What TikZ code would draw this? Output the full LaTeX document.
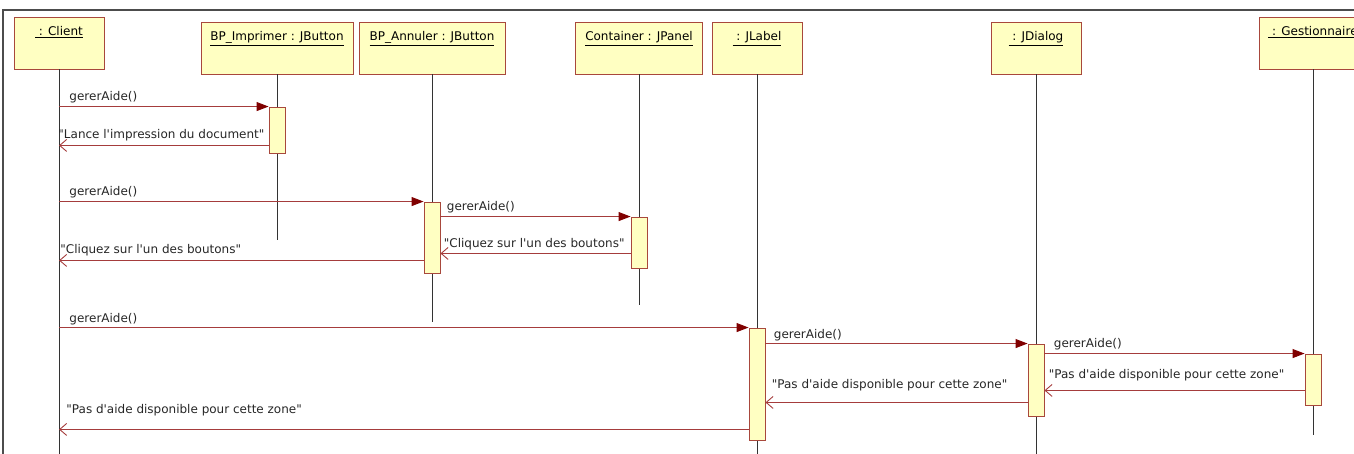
\documentclass[tikz,border=0pt]{standalone}
\usepackage{fontspec}
\setmainfont{DejaVu Sans}
\usetikzlibrary{arrows.meta}
\definecolor{boxfill}{RGB}{255,255,194}
\definecolor{boxline}{RGB}{168,72,60}
\definecolor{msgline}{RGB}{165,60,60}
\definecolor{tipcol}{RGB}{128,0,0}
\tikzset{
  objbox/.style={draw=boxline, fill=boxfill, line width=0.9pt, minimum height=52pt,
    text height=10pt, text depth=24pt, inner ysep=9pt, inner xsep=3pt},
  actbox/.style={draw=boxline, fill=boxfill, line width=0.9pt, minimum width=16pt, inner sep=0pt},
  lifeline/.style={black!80, line width=0.6pt},
  call/.style={msgline, line width=0.9pt, -{Triangle[length=12pt,width=9pt,fill=tipcol,color=tipcol]}},
  ret/.style={msgline, line width=0.9pt, -{Straight Barb[length=7pt,width=12pt]}},
  msg/.style={anchor=base west, inner sep=0pt, text=black!85}
}
\newcommand{\ul}[1]{\underline{#1}}
\newcommand{\ap}{\textquotesingle}
\newcommand{\qt}{\textquotedbl}
\begin{document}
\begin{tikzpicture}[x=1pt, y=-1pt, font=\fontsize{12}{14}\selectfont, line cap=butt]
  \useasboundingbox (0,0) rectangle (1354,454);
  % frame
  \draw[black!70, line width=2pt] (1360,10) -- (3,10) -- (3,460);
  % objects
  \node[objbox, minimum width=90pt] (cli) at (59,43) {\ul{ : Client}};
  \node[objbox, minimum width=152pt] (imp) at (277,48) {\ul{BP\_Imprimer : JButton}};
  \node[objbox, minimum width=146pt] (ann) at (432,48) {\ul{BP\_Annuler : JButton}};
  \node[objbox, minimum width=127pt] (cont) at (639,48) {\ul{Container : JPanel}};
  \node[objbox, minimum width=90pt] (lab) at (757,48) {\ul{ : JLabel}};
  \node[objbox, minimum width=90pt] (dia) at (1036,48) {\ul{ : JDialog}};
  \node[objbox, minimum width=108pt] (ges) at (1313,43) {\ul{ : Gestionnaire}};
  % lifelines
  \coordinate (cliend) at (59,454);
  \coordinate (impend) at (277,240);
  \coordinate (annend) at (432,322);
  \coordinate (contend) at (639,305);
  \coordinate (labend) at (757,454);
  \coordinate (diaend) at (1036,454);
  \coordinate (gesend) at (1313,435);
  \foreach \o in {cli,imp,ann,cont,lab,dia,ges}
    \draw[lifeline] (\o.south) -- (\o end);
  % activations
  \node[actbox, minimum height=46pt] (a1) at (277,130) {};
  \node[actbox, minimum height=71pt] (a2) at (432,237.5) {};
  \node[actbox, minimum height=51pt] (a3) at (639,242.5) {};
  \node[actbox, minimum height=112pt] (a4) at (757,384) {};
  \node[actbox, minimum height=72pt] (a5) at (1036,380) {};
  \node[actbox, minimum height=51pt] (a6) at (1313,379.5) {};
  % return points
  \coordinate (r1) at ([yshift=8pt]a1.south west);
  \coordinate (r2) at ([yshift=15pt]a3.south west);
  \coordinate (r3) at ([yshift=13pt]a2.south west);
  \coordinate (r4) at ([yshift=15pt]a6.south west);
  \coordinate (r5) at ([yshift=14pt]a5.south west);
  \coordinate (r6) at ([yshift=11pt]a4.south west);
  % messages
  \draw[call] (cli.south |- a1.north west) -- (a1.north west)
    node[msg, pos=0, xshift=10pt, yshift=6pt] (m1) {gererAide()};
  \draw[ret] (r1) -- (cli.south |- r1)
    node[msg, pos=1, xshift=-1pt, yshift=7pt] (m2) {\qt Lance l\ap impression du document\qt};
  \draw[call] (cli.south |- a2.north west) -- (a2.north west)
    node[msg, pos=0, xshift=10pt, yshift=6pt] (m3) {gererAide()};
  \draw[call] (a2.east |- a3.north west) -- (a3.north west)
    node[msg, pos=0, xshift=6pt, yshift=6pt] (m4) {gererAide()};
  \draw[ret] (r2) -- (a2.east |- r2)
    node[msg, pos=1, xshift=3pt, yshift=6pt] (m5) {\qt Cliquez sur l\ap un des boutons\qt};
  \draw[ret] (r3) -- (cli.south |- r3)
    node[msg, pos=1, xshift=1pt, yshift=7pt] (m6) {\qt Cliquez sur l\ap un des boutons\qt};
  \draw[call] (cli.south |- a4.north west) -- (a4.north west)
    node[msg, pos=0, xshift=10pt, yshift=5pt] (m7) {gererAide()};
  \draw[call] (a4.east |- a5.north west) -- (a5.north west)
    node[msg, pos=0, xshift=8pt, yshift=5pt] (m8) {gererAide()};
  \draw[call] (a5.east |- a6.north west) -- (a6.north west)
    node[msg, pos=0, xshift=9pt, yshift=6pt] (m9) {gererAide()};
  \draw[ret] (r4) -- (a5.east |- r4)
    node[msg, pos=1, xshift=4pt, yshift=12pt] (m10) {\qt Pas d\ap aide disponible pour cette zone\qt};
  \draw[ret] (r5) -- (a4.east |- r5)
    node[msg, pos=1, xshift=6pt, yshift=14pt] (m11) {\qt Pas d\ap aide disponible pour cette zone\qt};
  \draw[ret] (r6) -- (cli.south |- r6)
    node[msg, pos=1, xshift=7pt, yshift=16pt] (m12) {\qt Pas d\ap aide disponible pour cette zone\qt};
\end{tikzpicture}
\end{document}
